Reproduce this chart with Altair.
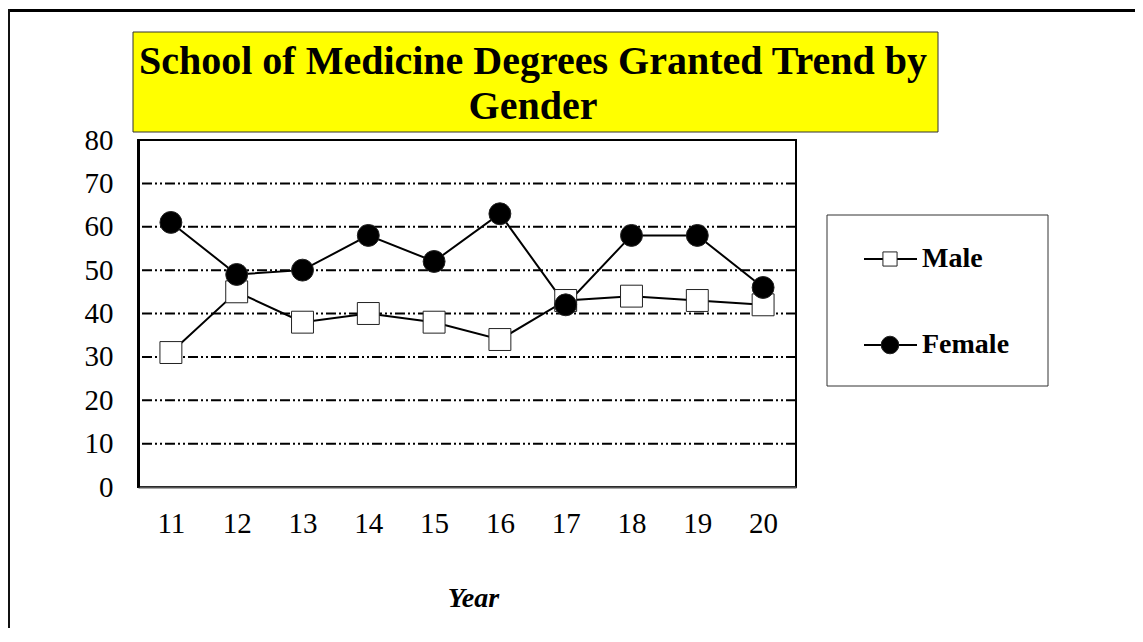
import altair as alt
import pandas as pd

# ---- data ----
years = ["11", "12", "13", "14", "15", "16", "17", "18", "19", "20"]
male = [31, 45, 38, 40, 38, 34, 43, 44, 43, 42]
female = [61, 49, 50, 58, 52, 63, 42, 58, 58, 46]
series = ["Male", "Female"]
y_ticks = [0, 10, 20, 30, 40, 50, 60, 70, 80]
grid_values = [10, 20, 30, 40, 50, 60, 70]
title_lines = ["School of Medicine Degrees Granted Trend by", "Gender"]
x_title = "Year"

W, H = 658, 347
FONT = "Liberation Serif"

df = pd.DataFrame({
    "year": years * 2,
    "value": male + female,
    "series": ["Male"] * len(years) + ["Female"] * len(years),
})
grid_df = pd.DataFrame({"g": grid_values})
leg_df = pd.DataFrame({"series": series})
one = pd.DataFrame({"k": [0]})

ydom = alt.Scale(domain=[0, 80])

x_enc = alt.X(
    "year:O", sort=years, scale=alt.Scale(type="point", padding=0.5),
    axis=alt.Axis(
        title=x_title, labelAngle=0, labelFont=FONT, labelFontSize=29,
        labelColor="black", labelPadding=22, ticks=False, grid=False,
        domainColor="#555555", domainWidth=2,
        titleFont=FONT, titleFontSize=28, titleFontStyle="italic",
        titleFontWeight="bold", titleColor="black",
        titleX=335, titleY=119, titleBaseline="alphabetic", titleAlign="center",
    ),
)

y_axis_enc = alt.Y(
    "value:Q", scale=ydom,
    axis=alt.Axis(
        values=y_ticks, title=None, grid=False, ticks=False,
        labelFont=FONT, labelFontSize=29, labelColor="black", labelPadding=25,
        domainColor="black", domainWidth=3,
    ),
)
y_plain = alt.Y("value:Q", scale=ydom, axis=None)

shape_enc = alt.Shape("series:N", scale=alt.Scale(domain=series, range=["square", "circle"]), legend=None)
fill_enc = alt.Fill("series:N", scale=alt.Scale(domain=series, range=["white", "black"]), legend=None)

# decorations
title_box = alt.Chart(one).mark_rect(fill="#FFFF00", stroke="#333333", strokeWidth=1).encode(
    x=alt.value(-5), x2=alt.value(800), y=alt.value(-108), y2=alt.value(-8)
)
title_text = alt.Chart(one).mark_text(
    text=title_lines, font=FONT, fontSize=40, fontWeight="bold", color="black",
    align="center", baseline="middle", lineHeight=45,
).encode(x=alt.value(395), y=alt.value(-78))

frame_top = alt.Chart(one).mark_rule(color="black", strokeWidth=3).encode(
    x=alt.value(-130), x2=alt.value(1000), y=alt.value(-129.5)
)
frame_left = alt.Chart(one).mark_rule(color="#111111", strokeWidth=3).encode(
    x=alt.value(-129.5), y=alt.value(-131), y2=alt.value(490)
)

grid = alt.Chart(grid_df).mark_rule(color="black", strokeWidth=2, strokeDash=[10, 3, 2, 3, 2, 3]).encode(
    y=alt.Y("g:Q", scale=ydom, axis=None)
)

lines = alt.Chart(df).mark_line(color="black", strokeWidth=2).encode(
    x=x_enc, y=y_axis_enc, detail="series:N"
)
points = alt.Chart(df).mark_point(filled=True, stroke="#222222", strokeWidth=1, opacity=1, size=480).encode(
    x=x_enc, y=y_plain, shape=shape_enc, fill=fill_enc
)

# legend
leg_y = alt.Y("series:N", sort=series,
              scale=alt.Scale(type="point", domain=series, range=[119, 205], padding=0),
              axis=None)
leg_box = alt.Chart(one).mark_rect(fill="white", stroke="#333333", strokeWidth=1).encode(
    x=alt.value(689), x2=alt.value(910), y=alt.value(75), y2=alt.value(246)
)
leg_rules = alt.Chart(leg_df).mark_rule(color="black", strokeWidth=2).encode(
    y=leg_y, x=alt.value(726), x2=alt.value(779)
)
leg_pts = alt.Chart(leg_df).mark_point(filled=True, stroke="#222222", strokeWidth=1, opacity=1).encode(
    y=leg_y, x=alt.value(752), shape=shape_enc, fill=fill_enc,
    size=alt.Size("series:O", scale=alt.Scale(domain=series, range=[200, 310]), legend=None),
)
leg_text = alt.Chart(leg_df).mark_text(
    align="left", baseline="middle", font=FONT, fontSize=28, fontWeight="bold", color="black"
).encode(y=leg_y, x=alt.value(784), text="series:N")

chart = alt.layer(
    title_box, title_text, frame_top, frame_left, grid, lines, points,
    leg_box, leg_rules, leg_pts, leg_text,
).resolve_scale(y="independent").properties(
    width=W, height=H,
    autosize=alt.AutoSizeParams(type="none"),
    padding={"left": 130, "top": 132, "right": 339, "bottom": 141},
    background="white",
).configure_view(stroke="black", strokeWidth=2)

chart.save("out.html", embed_options={"renderer": "svg", "actions": False})
